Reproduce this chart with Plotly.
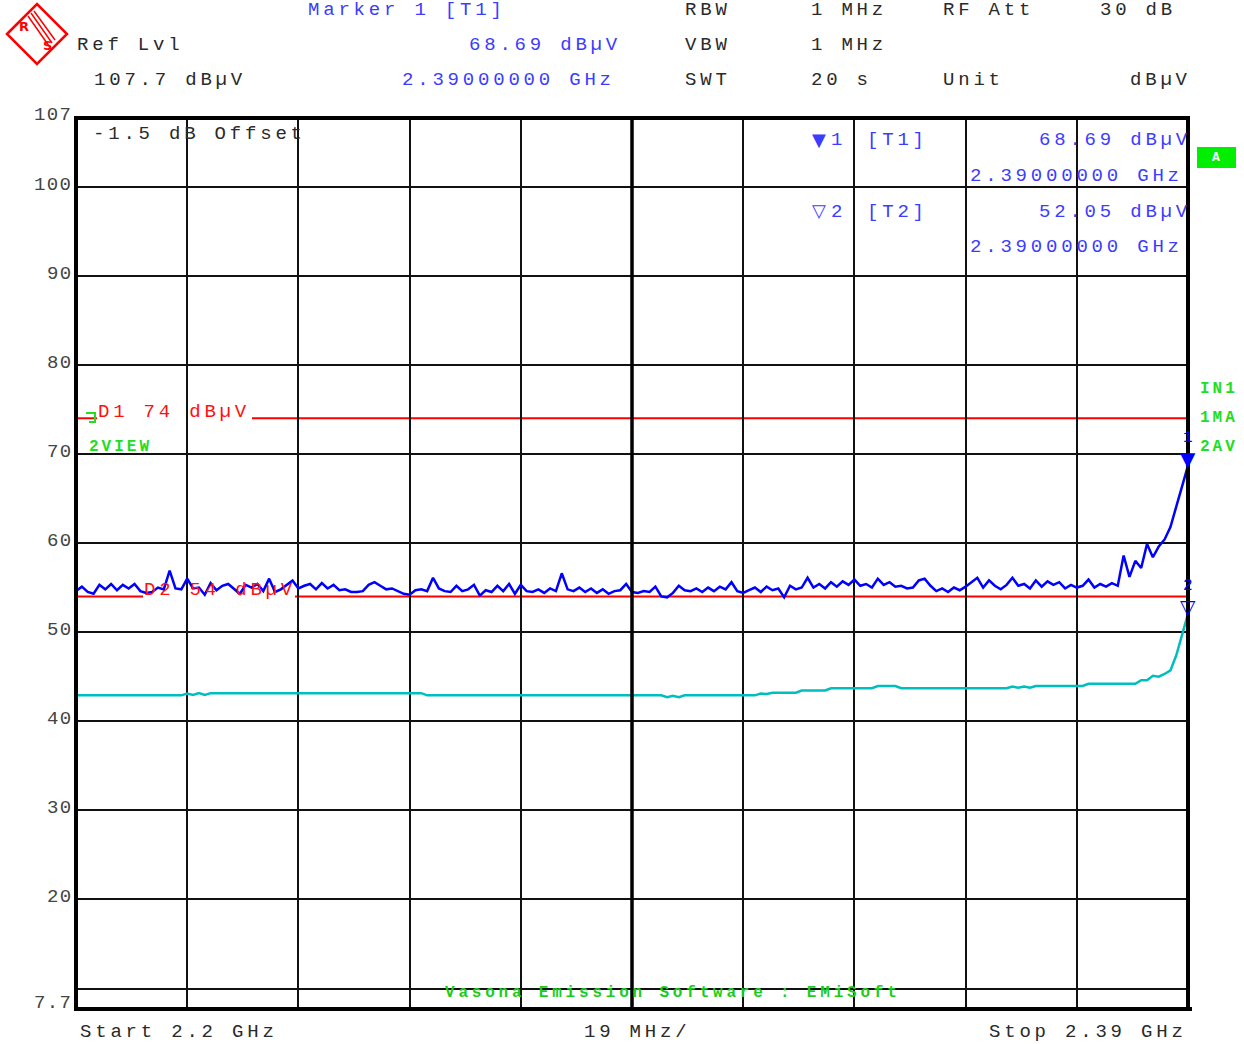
import plotly.graph_objects as go

# ---------------- data ----------------
FREQ_MHZ = list(range(2200, 2391))  # sweep points, 1 MHz apart

PEAK_DBUV = [
    54.6, 55.1, 54.5, 54.3, 55.3, 54.8, 55.4, 54.7, 55.3, 54.9,
    55.4, 54.6, 54.4, 54.5, 55.0, 54.8, 56.9, 54.9, 54.8, 56.0,
    54.9, 55.0, 54.2, 55.5, 54.7, 55.2, 55.4, 54.9, 54.3, 55.3,
    55.0, 55.4, 54.6, 56.0, 54.5, 54.8, 55.3, 55.8, 54.9, 55.2,
    55.4, 54.8, 55.5, 54.9, 55.3, 54.7, 54.8, 54.5, 54.5, 54.6,
    55.3, 55.6, 55.2, 54.8, 54.9, 54.6, 54.3, 54.2, 54.7, 54.8,
    54.6, 56.1, 54.9, 54.6, 54.5, 55.2, 54.6, 54.8, 55.3, 54.1,
    54.7, 54.5, 55.2, 54.6, 55.4, 54.3, 55.3, 54.6, 54.5, 54.8,
    54.4, 54.9, 54.6, 56.6, 54.8, 54.6, 55.0, 54.5, 54.9, 54.4,
    54.8, 54.3, 54.6, 54.7, 55.4, 54.5, 54.4, 54.6, 54.5, 55.1,
    54.0, 53.9, 54.4, 55.2, 54.7, 54.6, 54.9, 54.5, 55.0, 54.6,
    55.1, 54.8, 55.6, 54.6, 54.4, 54.7, 55.0, 54.5, 55.1, 54.7,
    54.9, 53.9, 55.2, 54.8, 55.0, 56.1, 55.0, 55.4, 54.9, 55.6,
    55.1, 55.7, 55.3, 55.9, 55.2, 55.4, 55.0, 56.0, 55.3, 55.6,
    55.1, 55.2, 54.9, 55.0, 55.8, 56.0, 55.2, 54.6, 54.9, 54.5,
    55.0, 54.7, 55.1, 55.6, 56.1, 55.0, 55.8, 55.2, 54.8, 55.3,
    56.1, 55.2, 55.4, 54.9, 55.8, 55.1, 55.7, 55.3, 55.6, 54.9,
    55.3, 55.0, 55.2, 55.9, 55.0, 55.4, 55.1, 55.5, 55.2, 58.6,
    56.2, 58.0, 57.2, 59.9, 58.4, 59.6, 60.4, 61.8, 64.0, 66.2,
    68.69,
]

AVG_DBUV = [
    42.9, 42.9, 42.9, 42.9, 42.9, 42.9, 42.9, 42.9, 42.9, 42.9,
    42.9, 42.9, 42.9, 42.9, 42.9, 42.9, 42.9, 42.9, 42.9, 43.1,
    42.95, 43.15, 42.95, 43.15, 43.15, 43.15, 43.15, 43.15, 43.15, 43.15,
    43.15, 43.15, 43.15, 43.15, 43.15, 43.15, 43.15, 43.15, 43.15, 43.15,
    43.15, 43.15, 43.15, 43.15, 43.15, 43.15, 43.15, 43.15, 43.15, 43.15,
    43.15, 43.15, 43.15, 43.15, 43.15, 43.15, 43.15, 43.15, 43.15, 43.15,
    42.9, 42.9, 42.9, 42.9, 42.9, 42.9, 42.9, 42.9, 42.9, 42.9,
    42.9, 42.9, 42.9, 42.9, 42.9, 42.9, 42.9, 42.9, 42.9, 42.9,
    42.9, 42.9, 42.9, 42.9, 42.9, 42.9, 42.9, 42.9, 42.9, 42.9,
    42.9, 42.9, 42.9, 42.9, 42.9, 42.9, 42.9, 42.9, 42.9, 42.9,
    42.9, 42.7, 42.85, 42.7, 42.9, 42.9, 42.9, 42.9, 42.9, 42.9,
    42.9, 42.9, 42.9, 42.9, 42.9, 42.9, 42.9, 43.1, 43.05, 43.2,
    43.2, 43.2, 43.2, 43.2, 43.45, 43.45, 43.45, 43.45, 43.45, 43.7,
    43.7, 43.7, 43.7, 43.7, 43.7, 43.7, 43.7, 43.95, 43.95, 43.95,
    43.95, 43.7, 43.7, 43.7, 43.7, 43.7, 43.7, 43.7, 43.7, 43.7,
    43.7, 43.7, 43.7, 43.7, 43.7, 43.7, 43.7, 43.7, 43.7, 43.7,
    43.9, 43.75, 43.9, 43.75, 43.95, 43.95, 43.95, 43.95, 43.95, 43.95,
    43.95, 43.95, 43.95, 44.2, 44.2, 44.2, 44.2, 44.2, 44.2, 44.2,
    44.2, 44.2, 44.6, 44.6, 45.1, 45.0, 45.3, 45.7, 47.4, 49.8,
    52.05,
]

LIMIT_D1_DBUV = 74
LIMIT_D2_DBUV = 54
MARKER_FREQ_MHZ = 2390
MARKER1_DBUV = 68.69
MARKER2_DBUV = 52.05

X_RANGE = [2200, 2390]
X_DIV_MHZ = 19
Y_RANGE = [7.7, 107.7]
Y_GRID = [10, 20, 30, 40, 50, 60, 70, 80, 90, 100]
Y_TICK_VALUES = [20, 30, 40, 50, 60, 70, 80, 90, 100]
Y_TICK_LABELS = ["20", "30", "40", "50", "60", "70", "80", "90", "100"]
Y_TOP_LABEL = "107"
Y_BOTTOM_LABEL = "7.7"

# ---------------- layout helpers (pixel -> paper) ----------------
W, H = 1244, 1044
L, R, T, B = 76, 1188, 118, 1009


def px(x):
    return (x - L) / (R - L)


def py(y):
    return (B - y) / (B - T)


BLUE_TXT = "#3c3cff"
DARK = "#2a2a2a"
GREEN = "#22dd22"
RED = "#ff1010"
MONO = "Liberation Mono"
FS = 19
LS = 3.8

annotations = []


def sp(t, ls):
    return f'<span style="letter-spacing:{ls}px">{t}</span>'


def txt(s, x, y, color=DARK, size=FS, ls=LS, anchor="left", bold=False,
        family=MONO):
    xx = x + ls if anchor == "right" else x
    annotations.append(dict(
        text=sp(s, ls) if ls else s, x=px(xx), y=py(y), xref="paper",
        yref="paper", xanchor=anchor, yanchor="middle", showarrow=False,
        borderpad=0,
        font=dict(family=family, size=size, color=color,
                  weight="bold" if bold else "normal")))


# header
txt("Marker 1 [T1]", 307, 10, BLUE_TXT)
txt("RBW", 684, 10)
txt("1 MHz", 810, 10)
txt("RF Att", 942, 10)
txt("30 dB", 1099, 10)
txt("Ref Lvl", 76, 45)
txt("68.69 dBµV", 618, 45, BLUE_TXT, anchor="right")
txt("VBW", 684, 45)
txt("1 MHz", 810, 45)
txt("107.7 dBµV", 93, 80)
txt("2.39000000 GHz", 612, 80, BLUE_TXT, anchor="right")
txt("SWT", 684, 80)
txt("20 s", 810, 80)
txt("Unit", 942, 80)
txt("dBµV", 1188, 80, anchor="right")

# inside the plot
txt("-1.5 dB Offset", 92, 134)
txt("▼", 811, 139, BLUE_TXT, size=18, ls=0, family="DejaVu Sans")
txt("1", 830, 140, BLUE_TXT)
txt("[T1]", 866, 140, BLUE_TXT)
txt("68.69 dBµV", 1188, 140, BLUE_TXT, anchor="right")
txt("2.39000000 GHz", 969, 176, BLUE_TXT)
txt("▽", 811, 211, BLUE_TXT, size=18, ls=0, family="DejaVu Sans")
txt("2", 830, 212, BLUE_TXT)
txt("[T2]", 866, 212, BLUE_TXT)
txt("52.05 dBµV", 1188, 212, BLUE_TXT, anchor="right")
txt("2.39000000 GHz", 969, 247, BLUE_TXT)

txt("D1 74 dBµV", 97, 412, RED)
txt("D2 54 dBµV", 143, 590, RED)
txt("2VIEW", 88, 447, GREEN, size=16, ls=3, bold=True)
txt("IN1", 1199, 389, GREEN, size=16, ls=3, bold=True)
txt("1MA", 1199, 418, GREEN, size=16, ls=3, bold=True)
txt("2AV", 1199, 447, GREEN, size=16, ls=3, bold=True)
txt("Vasona Emission Software : EMiSoft", 444, 993, "#1ccc1c", size=16,
    ls=3.8, bold=True)
txt("A", 1216, 157, "white", size=13, ls=0, anchor="center", bold=True)

# bottom
txt("Start 2.2 GHz", 79, 1032)
txt("19 MHz/", 583, 1032)
txt("Stop 2.39 GHz", 1184, 1032, anchor="right")

# y tick labels
for v, lab in zip(Y_TICK_VALUES, Y_TICK_LABELS):
    annotations.append(dict(
        text=sp(lab, 1.3), x=px(72 + 1.3), y=v, xref="paper", yref="y",
        xanchor="right", yanchor="middle", yshift=2, showarrow=False,
        borderpad=0, font=dict(family=MONO, size=FS, color="#444")))
txt(Y_TOP_LABEL, 72, 115, "#444", ls=1.3, anchor="right")
txt(Y_BOTTOM_LABEL, 72, 1003, "#444", ls=1.3, anchor="right")

# markers on the traces
for val, sym, lab in [(MARKER1_DBUV, "▼", "1"), (MARKER2_DBUV, "▽", "2")]:
    annotations.append(dict(
        text=sym, x=MARKER_FREQ_MHZ, y=val, xref="x", yref="y",
        xanchor="center", yanchor="bottom", yshift=-6, showarrow=False,
        borderpad=0,
        font=dict(family="DejaVu Sans", size=20, color="#0000ff")))
    annotations.append(dict(
        text=lab, x=MARKER_FREQ_MHZ, y=val, xref="x", yref="y",
        xanchor="center", yanchor="middle", yshift=28, showarrow=False,
        borderpad=0, font=dict(family=MONO, size=16, color="#0000ff")))

# ---------------- shapes ----------------
shapes = []


def seg(x0, x1, yval, color, width):
    shapes.append(dict(type="line", xref="paper", yref="y", x0=px(x0),
                       x1=px(x1), y0=yval, y1=yval, layer="between",
                       line=dict(color=color, width=width)))


# limit lines with gaps for their labels
seg(76, 97, LIMIT_D1_DBUV, "#ff0000", 2)
seg(252, 1188, LIMIT_D1_DBUV, "#ff0000", 2)
seg(76, 143, LIMIT_D2_DBUV, "#ff0000", 2)
seg(295, 1188, LIMIT_D2_DBUV, "#ff0000", 2)


def path(points, color, width, closed=False, fill=None):
    d = "M " + " L ".join(f"{px(x):.5f},{py(y):.5f}" for x, y in points)
    if closed:
        d += " Z"
    s = dict(type="path", xref="paper", yref="paper", path=d,
             line=dict(color=color, width=width), layer="above")
    if fill:
        s["fillcolor"] = fill
    shapes.append(s)


# green bracket before D1 label
path([(86, 413), (95, 413), (95, 422), (89, 422)], GREEN, 2)

# centre line and border
shapes.append(dict(type="line", xref="paper", yref="paper", x0=0.5, x1=0.5,
                   y0=0, y1=1, layer="above",
                   line=dict(color="black", width=3.5)))
shapes.append(dict(type="rect", xref="paper", yref="paper", x0=0, x1=1,
                   y0=0, y1=1, layer="above",
                   line=dict(color="black", width=4)))
shapes.append(dict(type="line", xref="paper", yref="paper", x0=1, x1=px(1192),
                   y0=0, y1=0, layer="above",
                   line=dict(color="black", width=4)))

# green "A" box
shapes.append(dict(type="rect", xref="paper", yref="paper", x0=px(1197),
                   x1=px(1236), y0=py(168), y1=py(147), layer="below",
                   fillcolor="#00ee00", line=dict(width=0)))

# R&S style logo
path([(7, 34), (37, 4), (67, 34), (37, 64)], "#ff0000", 2.5, closed=True)
path([(31, 13), (52, 43)], "#ff0000", 1.5)
path([(34, 11), (55, 40)], "#ff0000", 1.5)
path([(28, 16), (49, 46)], "#ff0000", 1.5)
txt("R", 24, 27, "#ff0000", size=13, ls=0, anchor="center", bold=True,
    family="DejaVu Sans")
txt("S", 47, 45, "#ff0000", size=13, ls=0, anchor="center", bold=True,
    family="DejaVu Sans")

# ---------------- figure ----------------
fig = go.Figure()
fig.add_trace(go.Scatter(
    x=FREQ_MHZ, y=AVG_DBUV, mode="lines", name="2AV", hoverinfo="skip",
    line=dict(color="#00bebe", width=2.5)))
fig.add_trace(go.Scatter(
    x=FREQ_MHZ, y=PEAK_DBUV, mode="lines", name="1MA", hoverinfo="skip",
    line=dict(color="#0000ff", width=2.5)))

fig.update_layout(
    width=W, height=H,
    margin=dict(l=L, r=W - R, t=T, b=H - B, pad=0),
    paper_bgcolor="white", plot_bgcolor="white", showlegend=False,
    xaxis=dict(range=X_RANGE, tick0=X_RANGE[0], dtick=X_DIV_MHZ,
               showgrid=True, gridcolor="#111", gridwidth=2,
               showticklabels=False, zeroline=False, showline=False,
               ticks="", fixedrange=True),
    yaxis=dict(range=Y_RANGE, tickvals=Y_GRID, showgrid=True,
               gridcolor="#111", gridwidth=2, showticklabels=False,
               zeroline=False, showline=False, ticks="", fixedrange=True),
    annotations=annotations, shapes=shapes,
)

fig.write_html("out.html", config={"displayModeBar": False},
               post_script="document.body.style.margin='0px';")
